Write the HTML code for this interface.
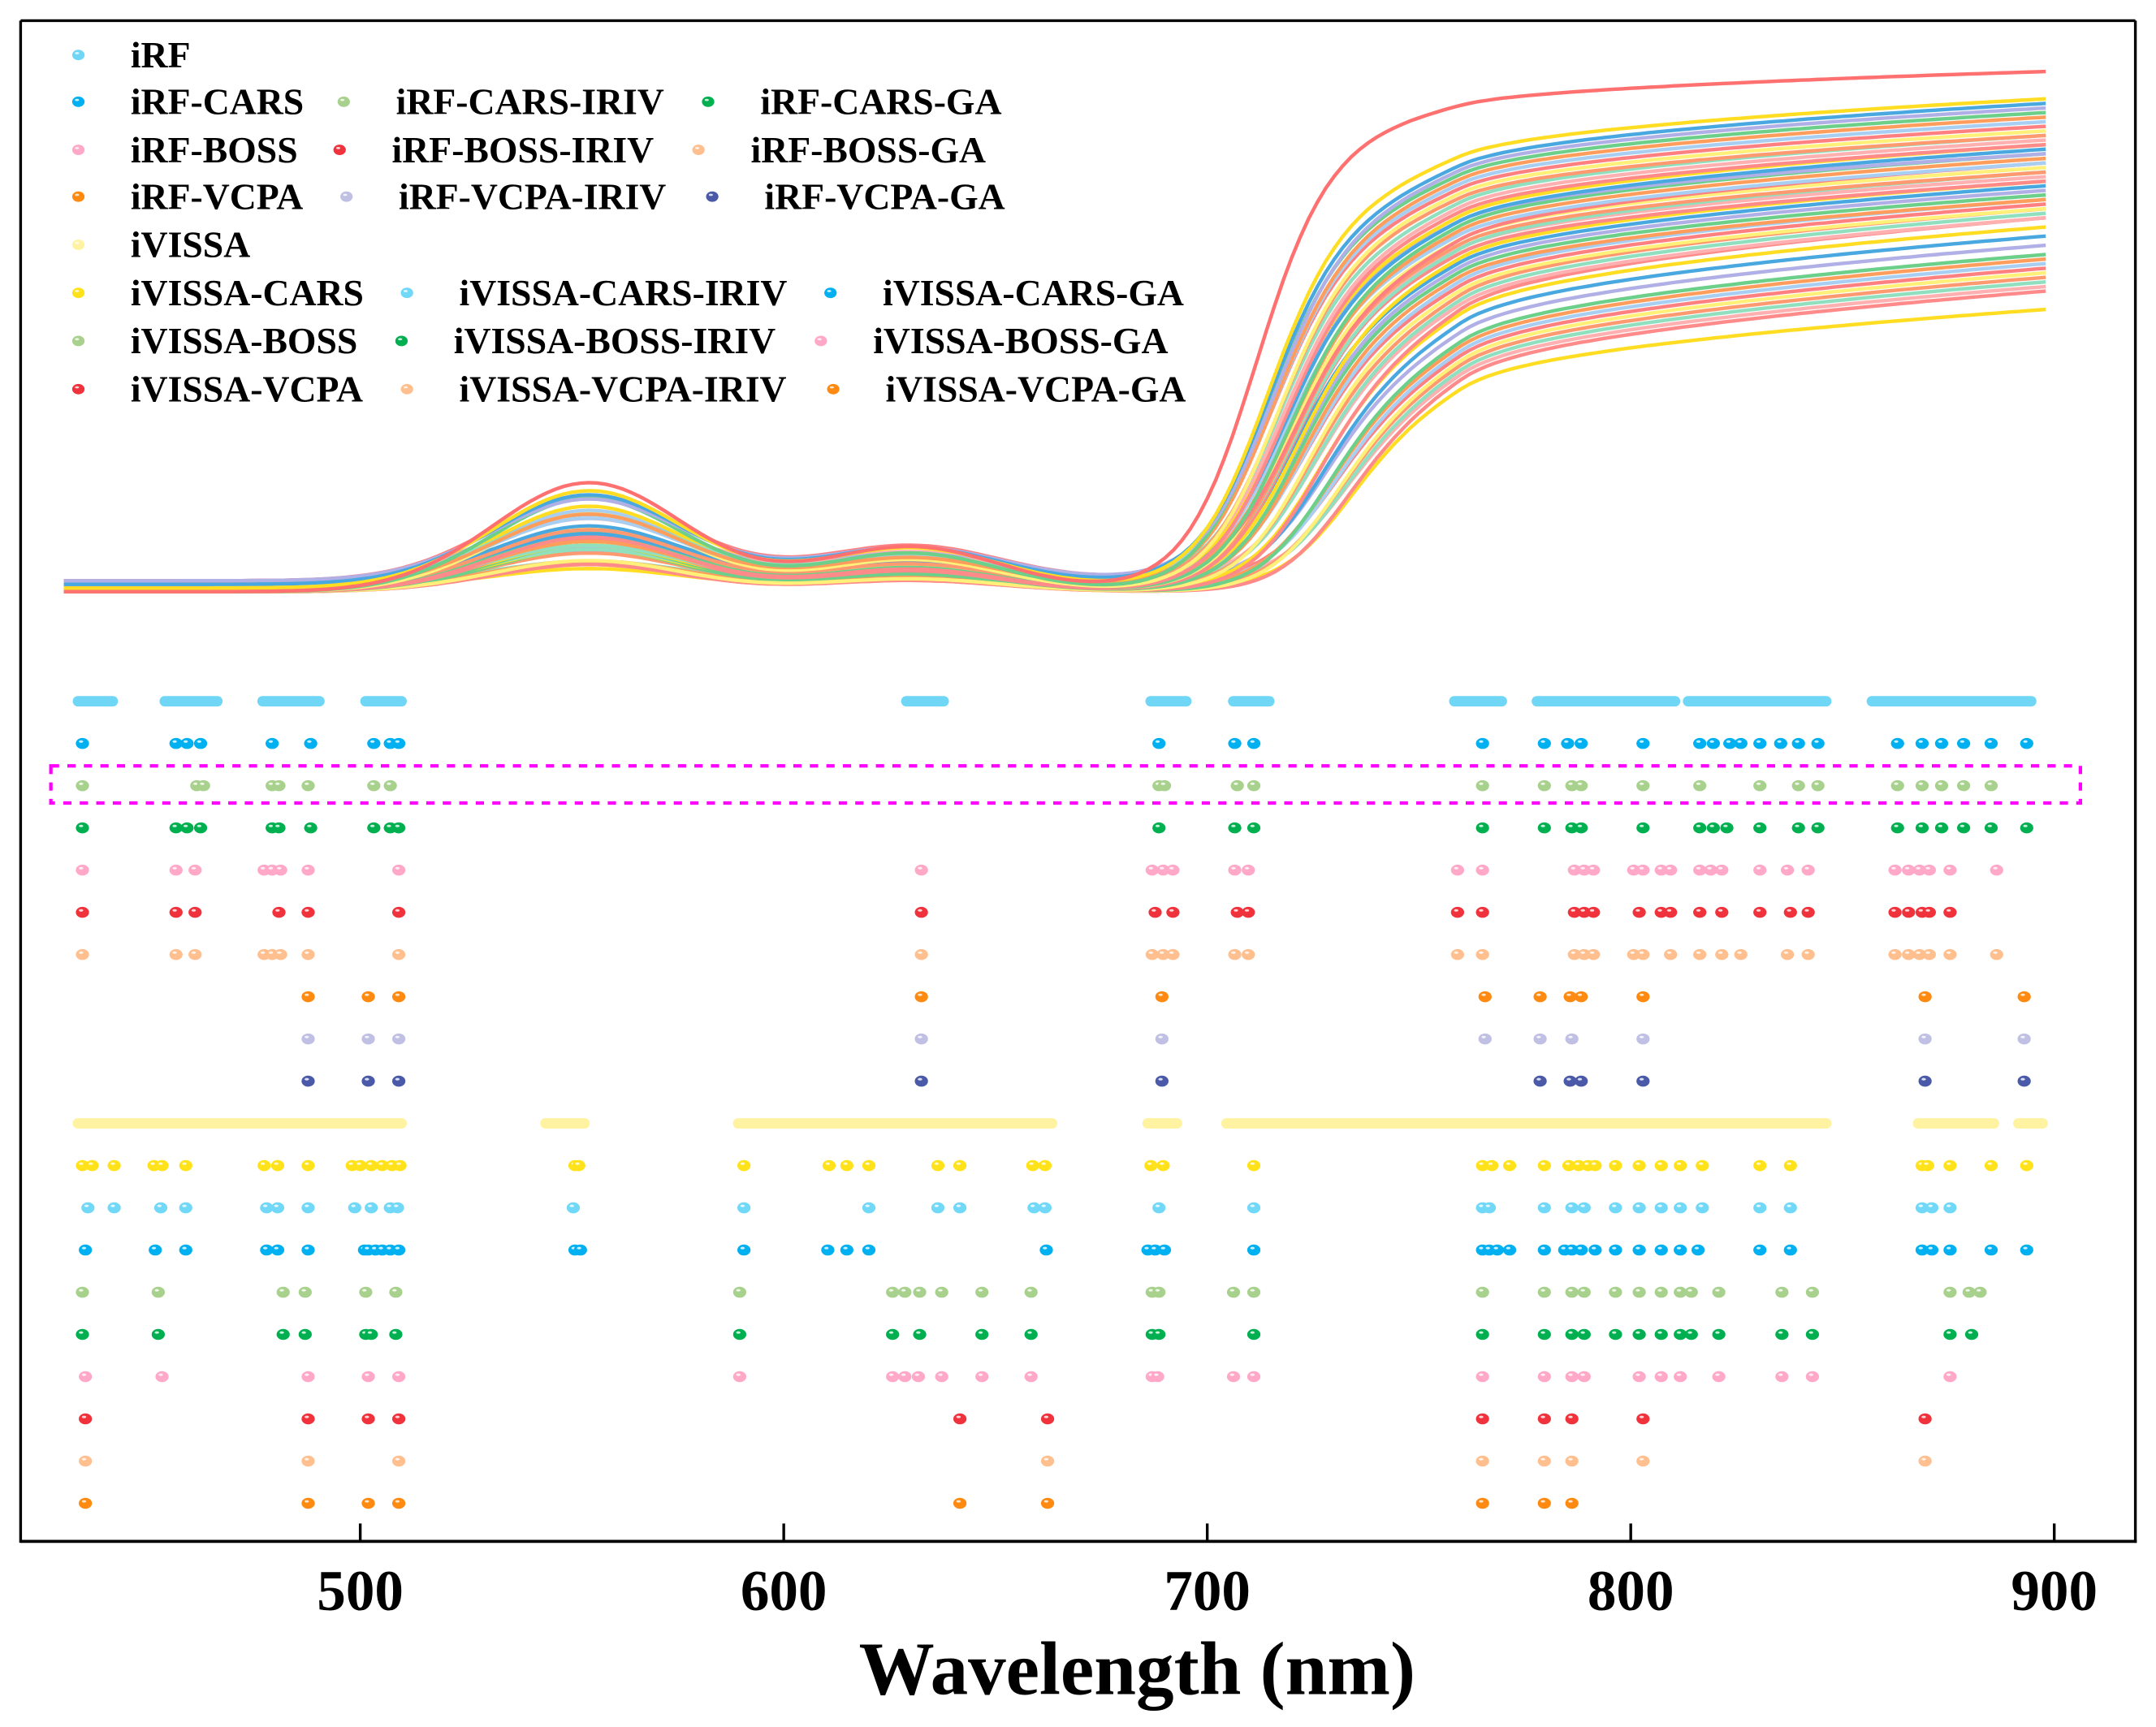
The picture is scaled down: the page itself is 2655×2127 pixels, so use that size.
<!DOCTYPE html>
<html><head><meta charset="utf-8"><style>
html,body{margin:0;padding:0;background:#fff;}
svg{display:block;}
text{font-family:"Liberation Serif",serif;font-weight:bold;fill:#000;}
</style></head><body>
<svg id="chart" xmlns="http://www.w3.org/2000/svg" width="2655" height="2127" viewBox="0 0 1568 1256" preserveAspectRatio="none">
<g id="spectra"></g>
<g id="dots"></g>
<g id="legend"></g>
<rect x="37" y="557" width="1476" height="27" fill="none" stroke="#ff00ff" stroke-width="2.5" stroke-dasharray="6,6"/>
<g id="axes">
<line x1="15" y1="15" x2="1553" y2="15" stroke="#000" stroke-width="2"/>
<line x1="15" y1="15" x2="15" y2="1122" stroke="#000" stroke-width="2"/>
<line x1="1553" y1="15" x2="1553" y2="1122" stroke="#000" stroke-width="2"/>
<line x1="15" y1="1121" x2="1554" y2="1121" stroke="#000" stroke-width="2.2"/>
</g>
<text x="827" y="1232" font-size="55" text-anchor="middle">Wavelength (nm)</text>
</svg>
<script>
const NS="http://www.w3.org/2000/svg";
const xTicks=[500,600,700,800,900];
function xs(w){return 262+(w-500)*3.08;}
function ys(r){return 445-r*666;}
function rowY(i){return 510+i*30.7;}

const seriesNames=["iRF","iRF-CARS","iRF-CARS-IRIV","iRF-CARS-GA","iRF-BOSS","iRF-BOSS-IRIV","iRF-BOSS-GA","iRF-VCPA","iRF-VCPA-IRIV","iRF-VCPA-GA","iVISSA","iVISSA-CARS","iVISSA-CARS-IRIV","iVISSA-CARS-GA","iVISSA-BOSS","iVISSA-BOSS-IRIV","iVISSA-BOSS-GA","iVISSA-VCPA","iVISSA-VCPA-IRIV","iVISSA-VCPA-GA"];
const seriesColors=["#6fd6f6","#00b0f0","#a9d18e","#00b050","#ffa8c8","#f0323c","#ffbf8f","#ff8a12","#c0c0e4","#4a5aa8","#fff2a0","#ffe21a","#72d8f8","#00b0f0","#a9d18e","#00b050","#ffa8c8","#f0323c","#ffbf8f","#ff8a12"];

const bandsIRF=[[433.4,441.5],[453.9,466.2],[477,490.3],[501.3,509.7],[629,637.7],[686.7,695],[706.2,714.6],[758.4,769.5],[777.9,810.4],[813.6,846.1],[857,894.5]];
const bandsIVISSA=[[433.4,509.7],[543.8,552.9],[589.3,663.3],[686,692.8],[704.6,846.1],[867.9,885.7],[891.6,897.2]];
const selCARS=[434.4,456.5,459.1,462.3,479.2,488.3,503.2,507.1,509.1,688.6,706.5,711,765,779.6,785.1,788.3,802.9,816.3,819.5,823.4,826,830.5,835.4,839.6,844.2,863,868.8,873.4,878.6,885.1,893.5];
const selCARSIRIV=[434.4,461.4,463,479.2,480.8,487.7,503.2,507.1,688.6,689.9,707.1,711,765,779.6,786.1,788.3,802.9,816.3,830.5,839.6,844.2,863,868.8,873.4,878.6,885.1];
const selCARSGA=[434.4,456.5,459.1,462.3,479.2,480.8,488.3,503.2,507.1,509.1,688.6,706.5,711,765,779.6,786.1,788.3,802.9,816.3,819.5,822.7,830.5,839.6,844.2,863,868.8,873.4,878.6,885.1,893.5];
const selBOSS=[434.4,456.5,461,477.3,479.2,481.2,487.7,509.1,632.5,687,689.6,691.9,706.5,709.7,759.1,765,786.7,789,791.2,800.7,802.9,807.2,809.4,816.3,818.9,821.5,830.5,837,841.9,862.4,865.6,868.2,870.5,875.4,886.4];
const selBOSSIRIV=[434.4,456.5,461,480.8,487.7,509.1,632.5,687.7,691.9,707.1,709.7,759.1,765,786.7,789,791.2,802,807.2,809.4,816.3,821.5,830.5,837.7,841.9,862.4,865.6,868.8,870.5,875.4];
const selBOSSGA=[434.4,456.5,461,477.3,479.2,481.2,487.7,509.1,632.5,687,689.6,691.9,706.5,709.7,759.1,765,786.7,789,791.2,800.7,802.9,809.4,816.3,821.5,826,837,841.9,862.4,865.6,868.2,870.5,875.4,886.4];
const selVCPA=[487.7,501.9,509.1,632.5,689.3,765.6,778.6,785.7,788.3,802.9,869.5,892.9];
const selVCPAIRIV=[487.7,501.9,509.1,632.5,689.3,765.6,778.6,786.1,802.9,869.5,892.9];
const selVCPAGA=[487.7,501.9,509.1,632.5,689.3,778.6,785.7,788.3,802.9,869.5,892.9];
const selVCARS=[434.4,436.7,441.9,451.3,453.2,458.8,477.3,480.5,487.7,498.1,500,502.6,505.2,507.5,509.4,550.7,551.6,590.6,610.7,614.9,620.1,636.4,641.6,658.8,661.7,686.7,689.6,711,765,767.2,771.4,779.6,785.4,787.7,789.9,791.6,796.4,802,807.2,811.7,816.9,830.5,837.7,868.8,870.1,875.4,885.1,893.5];
const selVCARSIRIV=[435.7,441.9,452.9,458.8,477.9,480.5,487.7,498.7,502.6,507.1,508.8,550.3,590.6,620.1,636.4,641.6,659.1,661.7,688.6,711,765,766.6,779.6,786.1,789,796.4,802,807.2,811.7,816.9,830.5,837.7,868.8,871.1,875.4];
const selVCARSGA=[435.1,451.6,458.8,477.9,480.5,487.7,501,501.9,503.6,505.2,507.1,509.1,550.7,552,590.6,610.4,614.9,620.1,662,686,687.7,689.9,711,765,766.6,768.5,771.4,779.6,784.4,786.1,788.3,791.6,796.4,802,807.2,811.7,815.9,830.5,837.7,868.8,871.1,875.4,885.1,893.5];
const selVBOSS=[434.4,452.3,481.8,487,501.3,508.4,589.6,625.7,628.6,632.1,637.3,646.8,658.4,687,688.6,706.2,711,765,779.6,786.1,789,796.4,802,807.2,811.7,814.3,820.8,835.7,842.9,875.4,879.9,882.5];
const selVBOSSIRIV=[434.4,452.3,481.8,487,501.3,502.6,508.4,589.6,625.7,632.1,646.8,658.4,687,688.6,711,765,779.6,786.1,789,796.4,802,807.2,811.7,814.3,820.8,835.7,842.9,875.4,880.5];
const selVBOSSGA=[435.1,453.2,487.7,501.9,509.1,589.6,625.7,628.6,631.8,637.3,646.8,658.4,687,688.3,706.2,711,765,779.6,786.1,789,802,807.2,811.7,820.8,835.7,842.9,875.4];
const selVVCPA=[435.1,487.7,501.9,509.1,641.6,662.3,765,779.6,786.1,802.9,869.5];
const selVVCPAIRIV=[435.1,487.7,509.1,662.3,765,779.6,786.1,802.9,869.5];
const selVVCPAGA=[435.1,487.7,501.9,509.1,641.6,662.3,765,779.6,786.1];
const rowData=[null,selCARS,selCARSIRIV,selCARSGA,selBOSS,selBOSSIRIV,selBOSSGA,selVCPA,selVCPAIRIV,selVCPAGA,null,selVCARS,selVCARSIRIV,selVCARSGA,selVBOSS,selVBOSSIRIV,selVBOSSGA,selVVCPA,selVVCPAIRIV,selVVCPAGA];

const nir760=[0.555,0.50,0.49,0.485,0.48,0.475,0.47,0.465,0.46,0.455,0.45,0.445,0.44,0.435,0.43,0.43,0.425,0.42,0.415,0.41,0.41,0.405,0.40,0.40,0.395,0.39,0.385,0.38,0.375,0.37,0.365,0.36,0.355,0.35,0.345,0.34,0.335,0.33,0.32,0.31,0.30,0.295,0.29,0.285,0.28,0.275,0.27,0.265,0.26,0.25];
const nir900=[0.59,0.56,0.555,0.55,0.545,0.54,0.535,0.53,0.525,0.52,0.52,0.515,0.51,0.51,0.505,0.50,0.50,0.495,0.49,0.49,0.485,0.48,0.48,0.475,0.47,0.47,0.465,0.46,0.455,0.45,0.45,0.445,0.44,0.44,0.435,0.43,0.43,0.42,0.41,0.40,0.39,0.385,0.38,0.375,0.37,0.365,0.36,0.355,0.35,0.33];
const visPeak=[0.14,0.125,0.115,0.105,0.12,0.095,0.085,0.11,0.10,0.075,0.09,0.08,0.07,0.105,0.065,0.085,0.075,0.06,0.095,0.055,0.08,0.07,0.05,0.09,0.065,0.055,0.075,0.045,0.06,0.07,0.05,0.065,0.04,0.055,0.045,0.06,0.035,0.05,0.045,0.04,0.055,0.035,0.05,0.04,0.035,0.045,0.03,0.04,0.035,0.025];
const edgeCenter=[711,713,713,714,713,714,714,714,715,715,715,716,716,715,716,716,717,717,716,718,717,718,718,717,718,719,718,719,719,720,720,720,721,721,722,722,723,723,724,724,725,725,726,726,727,727,728,728,729,730];
const lineColors=["#ff8a8a","#ffdd22","#49a8e0","#b0b0e6","#6ccf8a","#ff9d5c","#a8cff2","#ff8080","#fff07a","#ff9a70","#90e0c0","#ffb0b0"];

function mk(tag,attrs,parent){const e=document.createElementNS(NS,tag);for(const k in attrs)e.setAttribute(k,attrs[k]);parent.appendChild(e);return e;}

const gS=document.getElementById('spectra');
for(let i=nir760.length-1;i>=0;i--){
  let d="";
  const base=0.022+0.012*(i%4)/3;
  for(let w=430;w<=898;w+=2){
    const vis=visPeak[i]*0.85*Math.exp(-Math.pow((w-554)/32,2))+visPeak[i]*0.35*Math.exp(-Math.pow((w-630)/30,2));
    const sig=1/(1+Math.exp(-(w-edgeCenter[i])/8.5));
    const f=(w-760)/140;
    const nir=nir760[i]+(nir900[i]-nir760[i])*(f>=0?Math.sqrt(f+0.02)-0.1414:f*3.5)/(1-0.1414);
    const r=base+vis*(1-sig)+(nir-base)*sig;
    d+=(d?"L":"M")+xs(w).toFixed(1)+","+ys(r).toFixed(1);
  }
  const p=mk('path',{d:d,fill:"none",stroke:i===0?"#ff7070":lineColors[i%lineColors.length],"stroke-width":"2.6"},gS);
  
  
}

const gD=document.getElementById('dots');
function ball(cx,cy,color,parent){
  const g=mk('g',{},parent);
  
  
  mk('ellipse',{cx:cx,cy:cy,rx:4.8,ry:4,fill:color},g);
  mk('ellipse',{cx:cx-1,cy:cy-1.4,rx:1.6,ry:0.9,fill:"#fff","fill-opacity":"0.8"},g);
}
function band(a,b,cy,color,parent){
  const r=mk('rect',{x:xs(a)-4,y:cy-3.8,width:xs(b)-xs(a)+8,height:7.6,rx:3.8,fill:color},parent);
  
  
}
bandsIRF.forEach(b=>band(b[0],b[1],rowY(0),seriesColors[0],gD));
bandsIVISSA.forEach(b=>band(b[0],b[1],rowY(10),seriesColors[10],gD));
rowData.forEach((arr,i)=>{if(!arr)return;arr.forEach(w=>ball(xs(w),rowY(i),seriesColors[i],gD));});

const gA=document.getElementById('axes');
xTicks.forEach(t=>{
  const l=mk('line',{x1:xs(t),y1:1121,x2:xs(t),y2:1108,stroke:"#000","stroke-width":"2"},gA);
  
  
  const tx=mk('text',{x:xs(t),y:1171,"font-size":"42","text-anchor":"middle"},gA);
  tx.textContent=t;
  
  
});

const gL=document.getElementById('legend');
const legendRowY=[40,74,109,143,178,213,248,283];
const legendLayout=[[0,0,0],[1,1,0],[2,1,1],[3,1,2],[4,2,0],[5,2,1],[6,2,2],[7,3,0],[8,3,1],[9,3,2],[10,4,0],[11,5,0],[12,5,1],[13,5,2],[14,6,0],[15,6,1],[16,6,2],[17,7,0],[18,7,1],[19,7,2]];
const colMarkerX=[[57,250,515],[57,250,515],[57,247,508],[57,252,518],[57,296,604],[57,296,604],[57,292,597],[57,296,606]];
legendLayout.forEach(e=>{
  const si=e[0],r=e[1],c=e[2];
  const mx=colMarkerX[r][c],y=legendRowY[r];
  const g=mk('g',{},gL);
  
  
  mk('ellipse',{cx:mx,cy:y,rx:4.5,ry:3.8,fill:seriesColors[si]},g);
  mk('ellipse',{cx:mx-1,cy:y-1.3,rx:1.5,ry:0.8,fill:"#fff","fill-opacity":"0.8"},g);
  const t=mk('text',{x:mx+38,y:y+9,"font-size":"27"},g);
  t.textContent=seriesNames[si];
});
</script>
</body></html>
